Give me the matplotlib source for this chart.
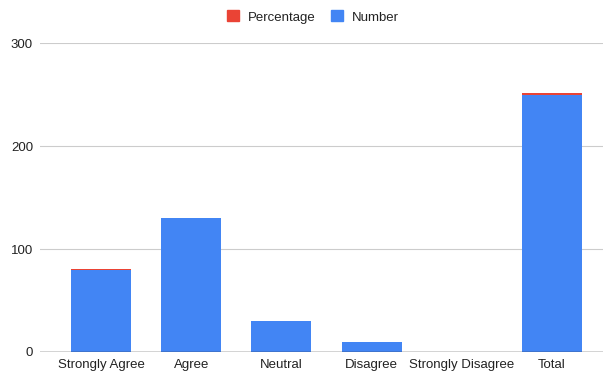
import matplotlib
matplotlib.use("Agg")
import matplotlib.pyplot as plt
from matplotlib.patches import Patch

categories = ["Strongly Agree", "Agree", "Neutral", "Disagree", "Strongly Disagree", "Total"]
number = [80, 130, 30, 10, 0, 250]
percentage = [0.32, 0.52, 0.12, 0.04, 0.0, 1.0]
yticks = [0, 100, 200, 300]

blue = "#4285F4"
red = "#EA4335"

plt.rcParams["font.family"] = ["Liberation Sans", "DejaVu Sans"]
fig = plt.figure(figsize=(6.03, 3.72), dpi=100)
ax = fig.add_axes([40/603, 1-352/372, 563/603, (352-43)/372])

x = list(range(len(categories)))
ax.bar(x, number, width=0.667, color=blue, zorder=3)
ax.bar(x, percentage, bottom=number, width=0.667, color=red, zorder=3)

ax.set_ylim(0, 300)
ax.set_xlim(-0.678, 5.567)
ax.set_yticks(yticks)
ax.set_yticklabels([str(t) for t in yticks])
ax.set_xticks(x)
ax.set_xticklabels(categories)
ax.grid(axis="y", color="#cccccc", linewidth=0.8, zorder=0)
ax.axhline(0, color="#333333", linewidth=1.0, zorder=4)
for s in ax.spines.values():
    s.set_visible(False)
ax.tick_params(axis="both", length=0, labelsize=9.5, colors="#222222")
ax.tick_params(axis="y", pad=5)
ax.tick_params(axis="x", pad=5)

handles = [Patch(color=red, label="Percentage"), Patch(color=blue, label="Number")]
fig.legend(handles=handles, loc="center", bbox_to_anchor=(313/603, 1-17/372), ncol=2,
           frameon=False, fontsize=9.5, handlelength=0.9, handleheight=0.9,
           columnspacing=1.1, handletextpad=0.7, labelcolor="#222222")

fig.savefig("out.png", dpi=100)
